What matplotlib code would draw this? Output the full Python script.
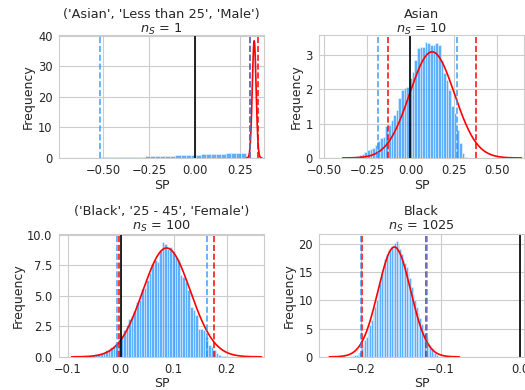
import numpy as np
import seaborn as sns
from matplotlib import pyplot as plt

sns.set_style("whitegrid")
plt.rcParams["font.family"] = ["DejaVu Sans"]

# panel titles
titles = ["('Asian', 'Less than 25', 'Male')\n$n_S$ = 1",
          "Asian\n$n_S$ = 10",
          "('Black', '25 - 45', 'Female')\n$n_S$ = 100",
          "Black\n$n_S$ = 1025"]

# histogram: first bin centre, bin width, density per bin
start1, width1 = -0.505, 0.0276
hist1 = [0.15, 0.2, 0.22, 0.25, 0.3, 0.33, 0.38, 0.42, 0.46, 0.5, 0.55, 0.6,
         0.66, 0.72, 0.8, 0.88, 0.95, 1.02, 1.08, 1.12, 1.18, 1.24, 1.3, 1.36,
         1.42, 1.48, 1.55, 1.62, 1.7]

start2, width2 = -0.305, 0.0152
hist2 = [0.07, 0.09, 0.12, 0.17, 0.23, 0.26, 0.28, 0.38, 0.48, 0.57, 0.62, 0.94,
         0.96, 1.1, 1.25, 1.4, 1.74, 1.98, 2.05, 2.08, 2.32, 2.51, 2.85, 3.19,
         3.24, 3.24, 3.39, 3.34, 3.3, 3.3, 3.36, 3.3, 2.85, 2.47, 2.27, 1.98,
         1.5, 1.3, 0.82, 0.43, 0.14, 0.04]

start3, width3 = -0.061, 0.00485
hist3 = [0.08, 0.1, 0.13, 0.2, 0.25, 0.3, 0.4, 0.55, 0.68, 0.78, 0.9, 1.1, 1.38,
         1.7, 2.2, 2.6, 3.06, 3.33, 3.74, 4.5, 4.69, 5.58, 5.66, 6.26, 6.86, 7.6,
         7.9, 7.75, 8.7, 9.37, 9.24, 8.83, 8.97, 8.7, 8.16, 7.9, 6.67, 6.53, 6.1,
         5.45, 4.1, 3.8, 3.4, 2.3, 2.3, 2.2, 1.65, 0.98, 0.84, 0.57, 0.35, 0.19,
         0.1, 0.05]

start4, width4 = -0.2143, 0.0021
hist4 = [0.05, 0.1, 0.18, 0.28, 0.4, 0.6, 0.94, 1.5, 2.1, 2.9, 3.6, 4.7, 5.6,
         6.6, 7.7, 8.9, 10.0, 11.8, 13.0, 14.6, 15.9, 17.3, 18.3, 18.9, 19.2,
         19.6, 19.8, 20.1, 20.5, 19.9, 19.2, 18.3, 17.4, 16.6, 15.9, 14.8, 13.9,
         12.4, 11.2, 10.0, 8.9, 7.8, 6.8, 5.8, 4.8, 4.0, 3.3, 2.7, 2.1, 1.5, 1.0,
         0.6, 0.35, 0.15]

# fitted normal (mean, sd)
mus = [0.325, 0.1245, 0.0865, -0.1585]
sigmas = [0.0104, 0.129, 0.0448, 0.0205]

# normal interval (red) and percentile interval (blue)
norm_ci = [(0.3046, 0.3454), (-0.129, 0.378), (-0.003, 0.176), (-0.1987, -0.1183)]
perc_ci = [(-0.517, 0.302), (-0.189, 0.266), (-0.0076, 0.162), (-0.201, -0.117)]

xlims = [(-0.742, 0.379), (-0.527, 0.655), (-0.117, 0.2705), (-0.2533, 0.0049)]
ylims = [(0, 40.2), (0, 3.58), (0, 10.05), (0, 21.77)]

hists = [(start1, width1, hist1), (start2, width2, hist2),
         (start3, width3, hist3), (start4, width4, hist4)]

fig = plt.figure(figsize=(5.25, 3.9), dpi=100)
boxes = [[0.112, 0.595, 0.391, 0.315], [0.608, 0.595, 0.39, 0.315],
         [0.112, 0.085, 0.391, 0.315], [0.608, 0.085, 0.39, 0.315]]
title_pads = [1.5, 1.5, 3, 3]

for i in range(4):
    ax = fig.add_axes(boxes[i])
    s, w, h = hists[i]
    centres = s + w * np.arange(len(h))
    ax.bar(centres, h, width=w, color="#1E90FF", alpha=0.72,
           edgecolor="white", linewidth=0.4)

    mu, sd = mus[i], sigmas[i]
    xs = np.linspace(mu - 4 * sd, mu + 4 * sd, 200)
    ax.plot(xs, np.exp(-0.5 * ((xs - mu) / sd) ** 2) / (sd * np.sqrt(2 * np.pi)),
            color="red", lw=1.2)

    for v in norm_ci[i]:
        ax.axvline(v, color="red", ls="--", lw=1.2, alpha=0.9)
    for v in perc_ci[i]:
        ax.axvline(v, color="#1E90FF", ls="--", lw=1.2, alpha=0.8)
    ax.axvline(0, color="black", lw=1.2)

    ax.set_xlim(*xlims[i])
    ax.set_ylim(*ylims[i])
    ax.set_xlabel("SP", fontsize=9, labelpad=1)
    ax.set_ylabel("Frequency", fontsize=9, labelpad=2)
    ax.set_title(titles[i], fontsize=9.3, pad=title_pads[i], linespacing=1.1)
    ax.tick_params(labelsize=8.3, pad=1)

fig.savefig("out.png", dpi=100)
